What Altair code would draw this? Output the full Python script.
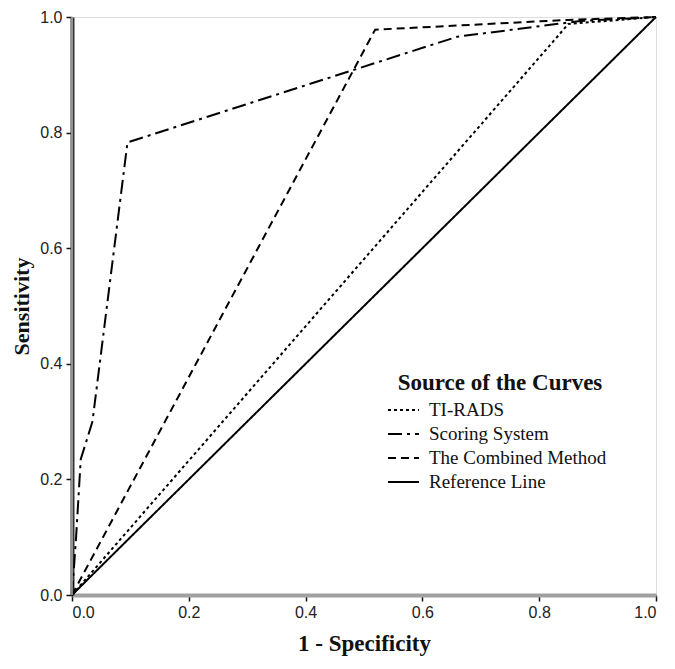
import altair as alt
import pandas as pd

series_names = ["TI-RADS", "Scoring System", "The Combined Method", "Reference Line"]

tirads_x = [0.0, 0.85, 1.0]
tirads_y = [0.0, 0.988, 1.0]

scoring_x = [0.0, 0.007, 0.015, 0.035, 0.095, 0.66, 0.87, 1.0]
scoring_y = [0.0, 0.10, 0.235, 0.30, 0.783, 0.966, 0.993, 1.0]

combined_x = [0.0, 0.519, 0.85, 1.0]
combined_y = [0.0, 0.978, 0.995, 1.0]

reference_x = [0.0, 1.0]
reference_y = [0.0, 1.0]

axis_ticks = [0.0, 0.2, 0.4, 0.6, 0.8, 1.0]

rows = []
for name, xs, ys in [
    (series_names[0], tirads_x, tirads_y),
    (series_names[1], scoring_x, scoring_y),
    (series_names[2], combined_x, combined_y),
    (series_names[3], reference_x, reference_y),
]:
    for i, (a, b) in enumerate(zip(xs, ys)):
        rows.append({"series": name, "x": a, "y": b, "i": i})
df = pd.DataFrame(rows)

SANS = "Liberation Sans"
SERIF = "Liberation Serif"

W, H = 584, 578

x_axis = alt.Axis(
    values=axis_ticks, format=".1f", title="1 - Specificity",
    labelFont=SANS, labelFontSize=16, labelColor="#222",
    titleFont=SERIF, titleFontSize=23, titleFontWeight="bold", titleColor="#111",
    titlePadding=12, grid=False, tickColor="#111", tickSize=6, tickWidth=1.5,
    domainColor="#a0a0a0", domainWidth=4, labelPadding=3,
)
y_axis = alt.Axis(
    values=axis_ticks, format=".1f", title="Sensitivity",
    labelFont=SANS, labelFontSize=16, labelColor="#222",
    titleFont=SERIF, titleFontSize=22, titleFontWeight="bold", titleColor="#111",
    titlePadding=6, grid=False, tickColor="#111", tickSize=6, tickWidth=1.5,
    domainColor="#333333", domainWidth=4, labelPadding=4,
)

lines = alt.Chart(df).mark_line(strokeWidth=2, color="black").encode(
    x=alt.X("x:Q", scale=alt.Scale(domain=[0, 1], nice=False, zero=False), axis=x_axis),
    y=alt.Y("y:Q", scale=alt.Scale(domain=[0, 1], nice=False, zero=False), axis=y_axis),
    order="i:O",
    strokeDash=alt.StrokeDash(
        "series:N",
        scale=alt.Scale(domain=series_names, range=[[3, 3], [14, 5, 3, 5], [8, 5], [1, 0]]),
        legend=alt.Legend(
            title="Source of the Curves", orient="none", legendX=321, legendY=355,
            titleFont=SERIF, titleFontSize=23, titleFontWeight="bold", titleColor="#111",
            titleAnchor="middle", titlePadding=4, titleLimit=500,
            labelFont=SERIF, labelFontSize=19, labelColor="#111", labelLimit=500,
            symbolType="M-1.6,0H1.5", symbolSize=400, symbolStrokeWidth=2,
            symbolFillColor="transparent",
            symbolStrokeColor="black", rowPadding=3, labelOffset=14, padding=0,
        ),
    ),
)

inner = alt.Chart(pd.DataFrame({"x": [0.0]})).mark_rule(color="#bdbdbd", strokeWidth=1.4).encode(
    x="x:Q", y=alt.value(0), y2=alt.value(H)
)

chart = alt.layer(lines, inner).properties(
    width=W, height=H,
    padding={"left": 64, "top": 9, "right": 11, "bottom": 66},
    autosize=alt.AutoSizeParams(type="none"),
).configure_view(stroke=None).configure(background="white")

chart.save("out.html", embed_options={"renderer": "svg", "actions": False})
